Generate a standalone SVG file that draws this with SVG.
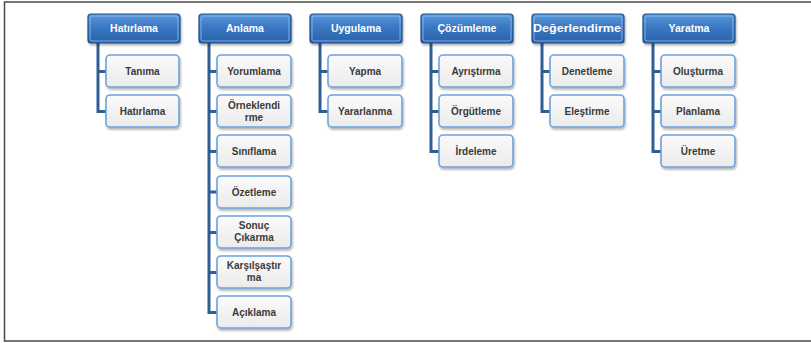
<svg xmlns="http://www.w3.org/2000/svg" width="811" height="343" viewBox="0 0 811 343">
<defs>
<linearGradient id="hg" x1="0" y1="0" x2="0" y2="1">
<stop offset="0" stop-color="#5b97dc"/>
<stop offset="0.45" stop-color="#3a78c4"/>
<stop offset="1" stop-color="#2a62a8"/>
</linearGradient>
<linearGradient id="cg" x1="0" y1="0" x2="0" y2="1">
<stop offset="0" stop-color="#fbfbfb"/>
<stop offset="1" stop-color="#ebebeb"/>
</linearGradient>
<filter id="sh" x="-10%" y="-10%" width="125%" height="140%">
<feDropShadow dx="1" dy="2" stdDeviation="1.2" flood-color="#000" flood-opacity="0.3"/>
</filter>
</defs>
<style>
.h rect.b{fill:url(#hg);stroke:#1f4f8a;stroke-width:1.2;filter:url(#sh)}
.h rect.hl{fill:none;stroke:#8fbdf0;stroke-width:1;opacity:0.8}
.h text{fill:#ffffff;font-family:"Liberation Sans",Arial,sans-serif;font-weight:bold;font-size:10.5px;text-anchor:middle}
.c rect{fill:url(#cg);stroke:#6fa2da;stroke-width:1.6;filter:url(#sh)}
.c text{fill:#3a3a3a;font-family:"Liberation Sans",Arial,sans-serif;font-weight:bold;font-size:10px;text-anchor:middle}
.con path{fill:none;stroke:#2f5e94;stroke-width:3}
</style>
<rect x="4.5" y="2" width="812" height="339" fill="#fff" stroke="#4a4a4a" stroke-width="1.5"/>
<g id="connectors" class="con">
<path d="M98 43V111.5H107M98 71.5H107"/>
<path d="M209 43V312.5H218M209 71.5H218M209 111.5H218M209 151.5H218M209 192H218M209 232.5H218M209 272.5H218"/>
<path d="M320 43V111.5H329M320 71.5H329"/>
<path d="M431 43V151.5H440M431 71.5H440M431 111.5H440"/>
<path d="M542 43V111.5H551M542 71.5H551"/>
<path d="M653 43V151.5H662M653 71.5H662M653 111.5H662"/>
</g>
<g id="h1" class="h"><rect class="b" x="88" y="14" width="92" height="29" rx="3"/><rect class="hl" x="90" y="16" width="88" height="25" rx="2"/><text x="134" y="32">Hatırlama</text></g>
<g id="h2" class="h"><rect class="b" x="199" y="14" width="92" height="29" rx="3"/><rect class="hl" x="201" y="16" width="88" height="25" rx="2"/><text x="245" y="32">Anlama</text></g>
<g id="h3" class="h"><rect class="b" x="310" y="14" width="92" height="29" rx="3"/><rect class="hl" x="312" y="16" width="88" height="25" rx="2"/><text x="356" y="32">Uygulama</text></g>
<g id="h4" class="h"><rect class="b" x="421" y="14" width="92" height="29" rx="3"/><rect class="hl" x="423" y="16" width="88" height="25" rx="2"/><text x="467" y="32">Çözümleme</text></g>
<g id="h5" class="h"><rect class="b" x="532" y="14" width="92" height="29" rx="3"/><rect class="hl" x="534" y="16" width="88" height="25" rx="2"/><text x="577" y="32" textLength="88" lengthAdjust="spacingAndGlyphs">Değerlendirme</text></g>
<g id="h6" class="h"><rect class="b" x="643" y="14" width="92" height="29" rx="3"/><rect class="hl" x="645" y="16" width="88" height="25" rx="2"/><text x="689" y="32">Yaratma</text></g>

<g id="c1a" class="c"><rect x="106" y="55" width="73" height="32" rx="4"/><text x="142.5" y="75">Tanıma</text></g>
<g id="c1b" class="c"><rect x="106" y="95" width="73" height="32" rx="4"/><text x="142.5" y="115">Hatırlama</text></g>

<g id="c2a" class="c"><rect x="217" y="55" width="74" height="32" rx="4"/><text x="254" y="75">Yorumlama</text></g>
<g id="c2b" class="c"><rect x="217" y="95" width="74" height="32" rx="4"/><text x="254" y="109">Örneklendi</text><text x="254" y="121">rme</text></g>
<g id="c2c" class="c"><rect x="217" y="135" width="74" height="32" rx="4"/><text x="254" y="155">Sınıflama</text></g>
<g id="c2d" class="c"><rect x="217" y="176" width="74" height="32" rx="4"/><text x="254" y="196">Özetleme</text></g>
<g id="c2e" class="c"><rect x="217" y="216" width="74" height="32" rx="4"/><text x="254" y="229">Sonuç</text><text x="254" y="241">Çıkarma</text></g>
<g id="c2f" class="c"><rect x="217" y="256" width="74" height="32" rx="4"/><text x="254" y="269">Karşılşaştır</text><text x="254" y="281">ma</text></g>
<g id="c2g" class="c"><rect x="217" y="296" width="74" height="32" rx="4"/><text x="254" y="316">Açıklama</text></g>

<g id="c3a" class="c"><rect x="328" y="55" width="74" height="32" rx="4"/><text x="365" y="75">Yapma</text></g>
<g id="c3b" class="c"><rect x="328" y="95" width="74" height="32" rx="4"/><text x="365" y="115">Yararlanma</text></g>

<g id="c4a" class="c"><rect x="439" y="55" width="74" height="32" rx="4"/><text x="476" y="75">Ayrıştırma</text></g>
<g id="c4b" class="c"><rect x="439" y="95" width="74" height="32" rx="4"/><text x="476" y="115">Örgütleme</text></g>
<g id="c4c" class="c"><rect x="439" y="135" width="74" height="32" rx="4"/><text x="476" y="155">İrdeleme</text></g>

<g id="c5a" class="c"><rect x="550" y="55" width="74" height="32" rx="4"/><text x="587" y="75">Denetleme</text></g>
<g id="c5b" class="c"><rect x="550" y="95" width="74" height="32" rx="4"/><text x="587" y="115">Eleştirme</text></g>

<g id="c6a" class="c"><rect x="661" y="55" width="74" height="32" rx="4"/><text x="698" y="75">Oluşturma</text></g>
<g id="c6b" class="c"><rect x="661" y="95" width="74" height="32" rx="4"/><text x="698" y="115">Planlama</text></g>
<g id="c6c" class="c"><rect x="661" y="135" width="74" height="32" rx="4"/><text x="698" y="155">Üretme</text></g>
</svg>
